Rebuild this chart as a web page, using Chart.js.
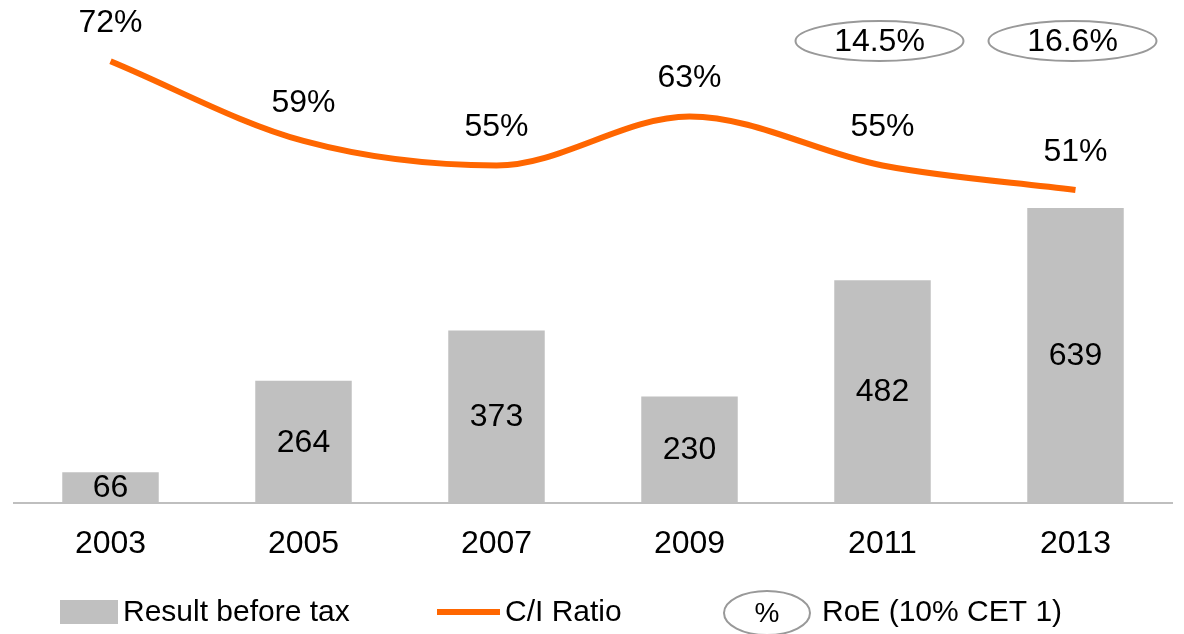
<!DOCTYPE html>
<html lang="en">
<head>
    <meta charset="UTF-8">
    <title>Result before tax and C/I Ratio</title>
    <style>
        html, body { margin: 0; padding: 0; background: #fff; }
        #wrap { width: 1184px; height: 634px; }
    </style>
</head>
<body>
<div id="wrap"><canvas id="chart" width="1184" height="634"></canvas></div>
<script src="https://cdn.jsdelivr.net/npm/chart.js"></script>
<script>
    // data
    const years = ['2003', '2005', '2007', '2009', '2011', '2013'];
    const resultBeforeTax = [66, 264, 373, 230, 482, 639];
    const ciRatio = [72, 59, 55, 63, 55, 51];
    const roe = [null, null, null, null, 14.5, 16.6];

    const FONT = '"Liberation Sans", Arial, sans-serif';
    const GREY = '#c0c0c0';
    const ORANGE = '#ff6600';

    function ellipse(ctx, cx, cy, rx, ry) {
        ctx.beginPath();
        ctx.ellipse(cx, cy, rx, ry, 0, 0, Math.PI * 2);
        ctx.strokeStyle = '#999999';
        ctx.lineWidth = 2;
        ctx.stroke();
    }

    const labelsPlugin = {
        id: 'labels',
        afterDatasetsDraw(chart) {
            const ctx = chart.ctx;
            ctx.save();
            ctx.fillStyle = '#000';
            ctx.font = '32px ' + FONT;
            ctx.textAlign = 'center';
            ctx.textBaseline = 'middle';

            // values inside bars
            chart.getDatasetMeta(0).data.forEach((bar, i) => {
                ctx.fillText(resultBeforeTax[i], bar.x, (bar.y + bar.base) / 2 + 1);
            });
            // C/I ratio above points
            chart.getDatasetMeta(1).data.forEach((pt, i) => {
                ctx.fillText(ciRatio[i] + '%', pt.x, pt.y - 38);
            });
            // RoE ovals
            const xs = chart.scales.x;
            roe.forEach((v, i) => {
                if (v === null) return;
                const x = xs.getPixelForValue(i);
                ellipse(ctx, x - 3, 41, 84, 20);
                ctx.fillStyle = '#000';
                ctx.fillText(v.toFixed(1) + '%', x - 3, 42);
            });

            // legend
            ctx.textAlign = 'left';
            ctx.font = '30px ' + FONT;
            ctx.fillStyle = GREY;
            ctx.fillRect(60, 600, 58, 24);
            ctx.fillStyle = '#000';
            ctx.fillText('Result before tax', 123, 613);

            ctx.fillStyle = ORANGE;
            ctx.fillRect(437, 609, 63, 6);
            ctx.fillStyle = '#000';
            ctx.fillText('C/I Ratio', 505, 613);

            ellipse(ctx, 767, 613, 43, 22);
            ctx.textAlign = 'center';
            ctx.font = '28px ' + FONT;
            ctx.fillText('%', 767, 614);
            ctx.textAlign = 'left';
            ctx.font = '30px ' + FONT;
            ctx.fillText('RoE (10% CET 1)', 822, 613);
            ctx.restore();
        }
    };

    new Chart(document.getElementById('chart').getContext('2d'), {
        data: {
            labels: years,
            datasets: [{
                type: 'bar',
                label: 'Result before tax',
                data: resultBeforeTax,
                backgroundColor: GREY,
                categoryPercentage: 1,
                barPercentage: 0.5,
                yAxisID: 'y',
                order: 2
            }, {
                type: 'line',
                label: 'C/I Ratio',
                data: ciRatio,
                borderColor: ORANGE,
                borderWidth: 6,
                pointRadius: 0,
                cubicInterpolationMode: 'monotone',
                yAxisID: 'y1',
                order: 1
            }]
        },
        options: {
            responsive: false,
            animation: false,
            layout: { padding: { left: 14, right: 12, top: 0, bottom: 49 } },
            plugins: { legend: { display: false }, tooltip: { enabled: false } },
            scales: {
                x: {
                    grid: { display: false, drawTicks: false },
                    border: { display: true, color: '#bfbfbf', width: 2 },
                    ticks: { color: '#000', padding: 22, font: { size: 32, family: FONT } }
                },
                y: { display: false, min: 0, max: 1090 },
                y1: { display: false, min: 0, max: 82 }
            }
        },
        plugins: [labelsPlugin]
    });
</script>
</body>
</html>
